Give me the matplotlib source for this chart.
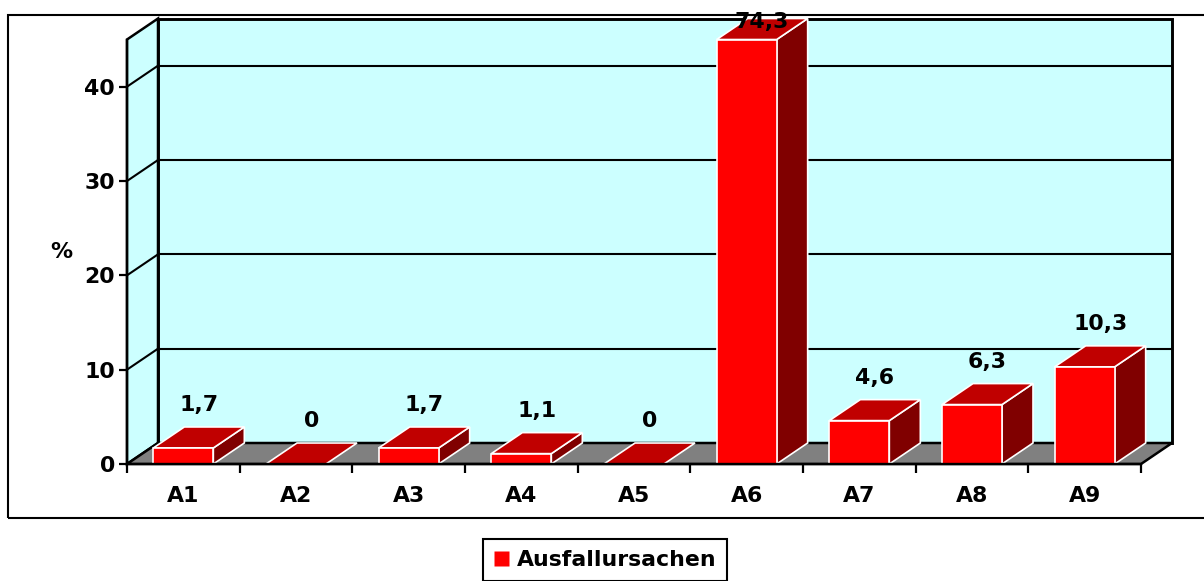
import numpy as np
import matplotlib
matplotlib.use("Agg")
import matplotlib.pyplot as plt
from matplotlib.patches import Rectangle, Polygon
from matplotlib.lines import Line2D

plt.rcParams['font.family'] = ['DejaVu Sans']
plt.rcParams['font.weight'] = 'bold'

# ---- data ----
categories = ["A1", "A2", "A3", "A4", "A5", "A6", "A7", "A8", "A9"]
values = [1.7, 0, 1.7, 1.1, 0, 74.3, 4.6, 6.3, 10.3]
y_ticks = [0, 10, 20, 30, 40]
y_max = 45
y_label = "%"
series_name = "Ausfallursachen"

# ---- style ----
WALL = '#CCFFFF'
FLOOR = '#808080'
FRONT = '#FF0000'
TOP = '#C00000'
SIDE = '#800000'
FS = 15.8

W_PX, H_PX = 1204, 581
fig = plt.figure(figsize=(W_PX / 100, H_PX / 100), dpi=100)
fig.patch.set_facecolor('white')

# front plane of the 3D box
left_px, right_px, zero_px = 127, 1141, 464
px_per_unit = 94.33 / 10
top_px = zero_px - y_max * px_per_unit
ax = fig.add_axes([left_px / W_PX, (H_PX - zero_px) / H_PX,
                   (right_px - left_px) / W_PX, (zero_px - top_px) / H_PX])
n = len(categories)
ax.set_xlim(-0.5, n - 0.5)
ax.set_ylim(0, y_max)
ax.patch.set_visible(False)

# depth offsets in data units
cat_px = (right_px - left_px) / n
DX = 31 / cat_px
DY = 21 / px_per_unit
BW = 60 / cat_px  # bar width

x0, x1 = -0.5, n - 0.5
# back wall
ax.add_patch(Rectangle((x0 + DX, DY), n, y_max, fc=WALL, ec='black', lw=2.1,
                       clip_on=False, zorder=0.5))
# left wall
ax.add_patch(Polygon([(x0, 0), (x0 + DX, DY), (x0 + DX, y_max + DY), (x0, y_max)],
                     closed=True, fc=WALL, ec='black', lw=1.8, clip_on=False, zorder=0.5))
# floor
ax.add_patch(Polygon([(x0, 0), (x1, 0), (x1 + DX, DY), (x0 + DX, DY)],
                     closed=True, fc=FLOOR, ec='black', lw=1.8, clip_on=False, zorder=0.6))
# gridlines
for v in y_ticks[1:]:
    ax.plot([x0 + DX, x1 + DX], [v + DY, v + DY], color='black', lw=1.5,
            clip_on=False, zorder=0.8)
    ax.plot([x0, x0 + DX], [v, v + DY], color='black', lw=1.5,
            clip_on=False, zorder=0.8)

# bars
label_max = 46.2
for i, v in enumerate(values):
    h = min(v, y_max)
    bx0, bx1 = i - BW / 2, i + BW / 2
    z = 2 + i * 0.01
    if h > 0:
        ax.add_patch(Polygon([(bx1, 0), (bx1 + DX, DY), (bx1 + DX, h + DY), (bx1, h)],
                             closed=True, fc=SIDE, ec='white', lw=1.2,
                             clip_on=False, zorder=z))
    ax.add_patch(Polygon([(bx0, h), (bx1, h), (bx1 + DX, h + DY), (bx0 + DX, h + DY)],
                         closed=True, fc=TOP, ec='white', lw=1.2,
                         clip_on=False, zorder=z))
    if h > 0:
        ax.add_patch(Rectangle((bx0, 0), BW, h, fc=FRONT, ec='white', lw=1.2,
                               clip_on=False, zorder=z))
    ly = min(h + DY + 1.65, label_max)
    ax.text(i + DX / 2, ly, f"{v:g}".replace('.', ','), ha='center', va='baseline',
            fontsize=FS, fontweight='bold', zorder=5, clip_on=False)

# spines / ticks
for s in ['top', 'right']:
    ax.spines[s].set_visible(False)
for s in ['left', 'bottom']:
    ax.spines[s].set_linewidth(1.7)
    ax.spines[s].set_zorder(3)
ax.set_yticks(y_ticks)
ax.tick_params(axis='y', length=5.8, width=1.6, pad=2.9, labelsize=FS)
ax.set_xticks(np.arange(-0.5, n, 1.0))
ax.set_xticklabels([])
ax.set_xticks(np.arange(n), minor=True)
ax.set_xticklabels(categories, minor=True)
ax.tick_params(axis='x', which='major', length=6.5, width=1.6, direction='out')
ax.tick_params(axis='x', which='minor', length=0, pad=16, labelsize=FS)
ax.set_ylabel(y_label, rotation=0, fontsize=FS, fontweight='bold', ha='center', va='center')
ax.yaxis.set_label_coords((61 - left_px) / (right_px - left_px), (zero_px - 252) / (zero_px - top_px))

# outer chart border
fig.add_artist(Rectangle((8 / W_PX, 1 - 518 / H_PX), 1.1, (518 - 15) / H_PX,
                         transform=fig.transFigure, fill=False, ec='black', lw=1.5))

# legend
handle = Line2D([], [], marker='s', ls='none', color=FRONT, mec='none', markersize=10.8)
leg = fig.legend(handles=[handle], labels=[series_name], loc='upper left',
                 bbox_to_anchor=(483 / W_PX, 1 - 539 / H_PX), bbox_transform=fig.transFigure,
                 frameon=True, fancybox=False, edgecolor='black', framealpha=1,
                 handlelength=0.68, handletextpad=0.36, borderpad=0.5, borderaxespad=0,
                 prop=dict(size=FS, weight='bold'))
leg.get_frame().set_linewidth(1.5)

fig.savefig('out.png', dpi=100)
